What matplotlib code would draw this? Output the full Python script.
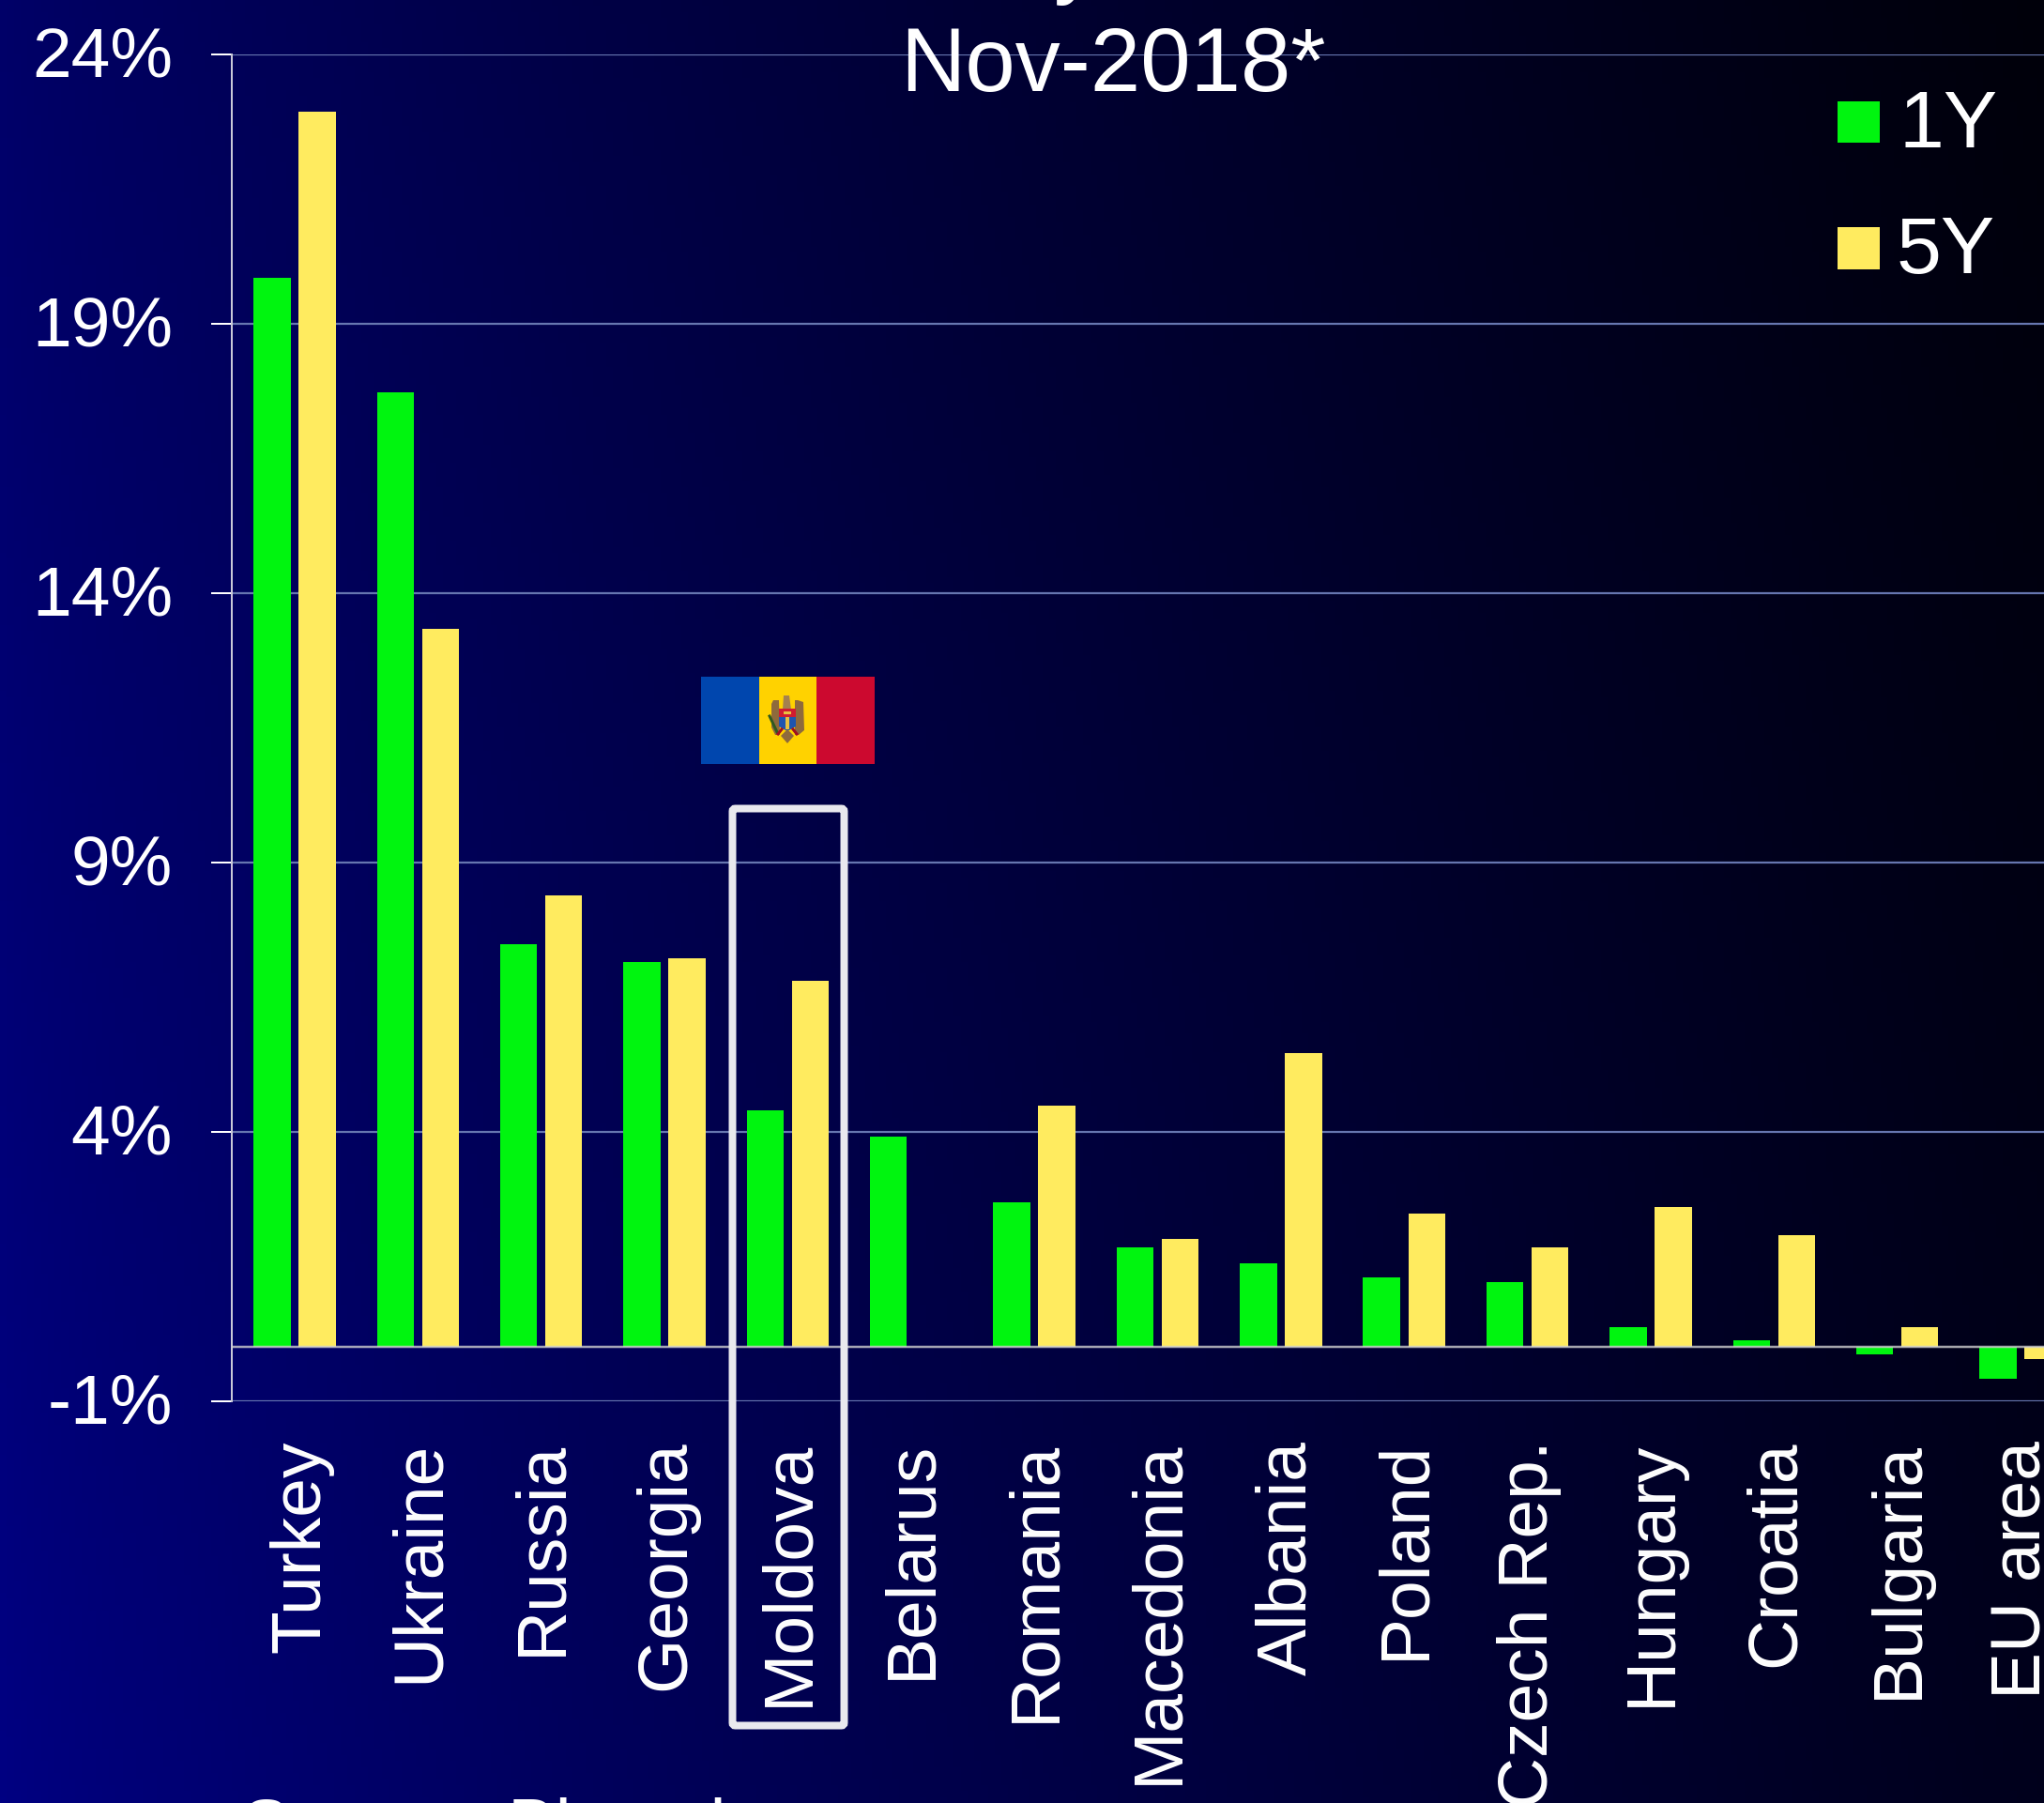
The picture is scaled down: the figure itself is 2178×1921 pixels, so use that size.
import numpy as np
import matplotlib
matplotlib.use('Agg')
import matplotlib.pyplot as plt
from matplotlib.patches import Rectangle, Polygon, FancyBboxPatch
from matplotlib.transforms import ScaledTranslation

# Данные (%)
countries = ['Turkey', 'Ukraine', 'Russia', 'Georgia', 'Moldova', 'Belarus', 'Romania',
             'Macedonia', 'Albania', 'Poland', 'Czech Rep.', 'Hungary', 'Croatia',
             'Bulgaria', 'EU area']
values_1y = [19.85, 17.72, 7.47, 7.15, 4.4, 3.9, 2.68, 1.85, 1.55, 1.3, 1.2, 0.37, 0.13, -0.14, -0.58]
values_5y = [22.93, 13.33, 8.38, 7.22, 6.8, np.nan, 4.48, 2.0, 5.45, 2.48, 1.85, 2.6, 2.07, 0.37, -0.23]
y_ticks = [-1, 4, 9, 14, 19, 24]

W, H = 2178, 1921
GREEN = '#00F50F'
YELLOW = '#FFEB5F'
GRID = '#6676B0'

plt.rcParams['font.family'] = ['Liberation Sans', 'DejaVu Sans']
PX = 72 / 100  # перевод пикселей в пункты


def draw_background(fig):
    """Фон: градиент от тёмно-синего слева к чёрному справа."""
    bg = fig.add_axes([0, 0, 1, 1], zorder=0)
    bg.axis('off')
    xx, yy = np.meshgrid(np.linspace(0, 1, 300), np.linspace(0, 1, 300))
    left = 104 + 26 * yy
    right = 10 + 18 * yy
    blue = left + (right - left) * (xx ** 0.8)
    img = np.zeros(xx.shape + (3,))
    img[..., 2] = blue / 255
    bg.imshow(img, aspect='auto', extent=(0, 1, 1, 0))


def draw_flag(ov):
    """Флаг Молдовы и упрощённый герб."""
    ov.add_patch(Rectangle((747, 721), 62, 93, color='#0046AE', lw=0))
    ov.add_patch(Rectangle((809, 721), 62, 93, color='#FFD200', lw=0))
    ov.add_patch(Rectangle((870, 721), 62, 93, color='#CC092F', lw=0))
    brown = '#8E6A3C'
    ov.add_patch(Polygon([(824, 746), (830, 746), (831, 783), (826, 783), (822, 775), (822, 750)], color=brown, lw=0))
    ov.add_patch(Polygon([(850, 746), (856, 748), (857, 778), (851, 783), (847, 783), (847, 746)], color=brown, lw=0))
    ov.add_patch(Polygon([(835, 741), (841, 741), (843, 756), (834, 756)], color='#A5814F', lw=0))
    ov.add_patch(Polygon([(830, 755), (848, 755), (848, 764), (830, 764)], color='#D01C30', lw=0))
    ov.add_patch(Polygon([(830, 764), (848, 764), (848, 774), (839, 779), (830, 774)], color='#1F55B0', lw=0))
    ov.add_patch(Polygon([(832, 784), (839, 777), (846, 784), (839, 792)], color=brown, lw=0))
    ov.add_patch(Polygon([(835, 758), (843, 758), (843, 761), (835, 761)], color='#E8C040', lw=0))
    ov.add_patch(Polygon([(837, 764), (841, 764), (841, 777), (837, 777)], color='#E8C040', lw=0))
    ov.plot([820, 828], [763, 780], color='#2E5A20', lw=3 * PX)
    ov.plot([829, 833], [782, 777], color='#A01020', lw=3 * PX)
    ov.plot([849, 845], [782, 777], color='#A01020', lw=3 * PX)


fig = plt.figure(figsize=(W / 100, H / 100), dpi=100, facecolor='#000040')
draw_background(fig)

# Основной график
ax_left, ax_right = 247, W
ax_top, ax_bottom = 57.5, 1492.7
ax = fig.add_axes([ax_left / W, 1 - ax_bottom / H, (ax_right - ax_left) / W, (ax_bottom - ax_top) / H],
                  zorder=1)
ax.patch.set_alpha(0)

x = np.arange(len(countries))
ax.bar(x - 0.183, values_1y, width=0.30, color=GREEN, zorder=3, label='1Y')
ax.bar(x + 0.183, values_5y, width=0.30, color=YELLOW, zorder=3, label='5Y')
ax.axhline(0, color='#D0D0D0', lw=2.5 * PX, alpha=0.8, zorder=4)

ax.set_xlim(-0.51, 14.19)
ax.set_ylim(-1, 24)
ax.set_yticks(y_ticks)
ax.set_yticklabels([f'{v}%' for v in y_ticks], fontsize=75 * PX, color='white')
ax.set_xticks(x)
ax.set_xticklabels(countries, rotation=90, fontsize=75 * PX, color='white',
                   rotation_mode='anchor', ha='right', va='baseline')
ax.tick_params(axis='y', length=22 * PX, width=2 * PX, color='white', pad=41 * PX)
ax.tick_params(axis='x', length=0, pad=42 * PX)
ax.grid(axis='y', color=GRID, lw=2.2 * PX, zorder=1)
ax.set_axisbelow(True)
for side in ['top', 'right', 'bottom']:
    ax.spines[side].set_visible(False)
ax.spines['left'].set_color('#C8C8D8')
ax.spines['left'].set_linewidth(2 * PX)

# Сдвиг подписей: базовая линия правее центра категории, подписи оси Y чуть выше.
# Turkey и Albania matplotlib рисует левее остальных, поэтому им сдвиг больше
for label in ax.get_xticklabels():
    dx = 26 if label.get_text() in ('Turkey', 'Albania') else 21
    label.set_transform(label.get_transform() + ScaledTranslation(dx / 100, 0, fig.dpi_scale_trans))
for label in ax.get_yticklabels():
    label.set_transform(label.get_transform() + ScaledTranslation(0, 3 / 100, fig.dpi_scale_trans))

# Наложение в пиксельных координатах: подписи, легенда, флаг, рамка
ov = fig.add_axes([0, 0, 1, 1], zorder=2)
ov.set_xlim(0, W)
ov.set_ylim(H, 0)
ov.axis('off')

ov.text(1186, 97, 'Nov-2018*', fontsize=96 * PX, color='white', ha='center', va='baseline')
ov.text(1123, -14, 'y', fontsize=96 * PX, color='white', ha='left', va='baseline', clip_on=False)
ov.text(258, 1970, 'Source: Bloomberg', fontsize=76 * PX, color='white', ha='left', va='baseline', clip_on=False)

ov.add_patch(Rectangle((1958, 107.5), 45, 44.5, color=GREEN, lw=0))
ov.add_patch(Rectangle((1958, 242), 45, 45, color=YELLOW, lw=0))
ov.text(2024, 157, '1Y', fontsize=86 * PX, color='white', ha='left', va='baseline')
ov.text(2021, 291, '5Y', fontsize=86 * PX, color='white', ha='left', va='baseline')

draw_flag(ov)
ov.add_patch(FancyBboxPatch((780.5, 861.5), 119, 977, boxstyle='round,pad=0,rounding_size=3',
                            fill=False, edgecolor='#E9E9EE', lw=8 * PX))

fig.savefig('out.png', dpi=100)
